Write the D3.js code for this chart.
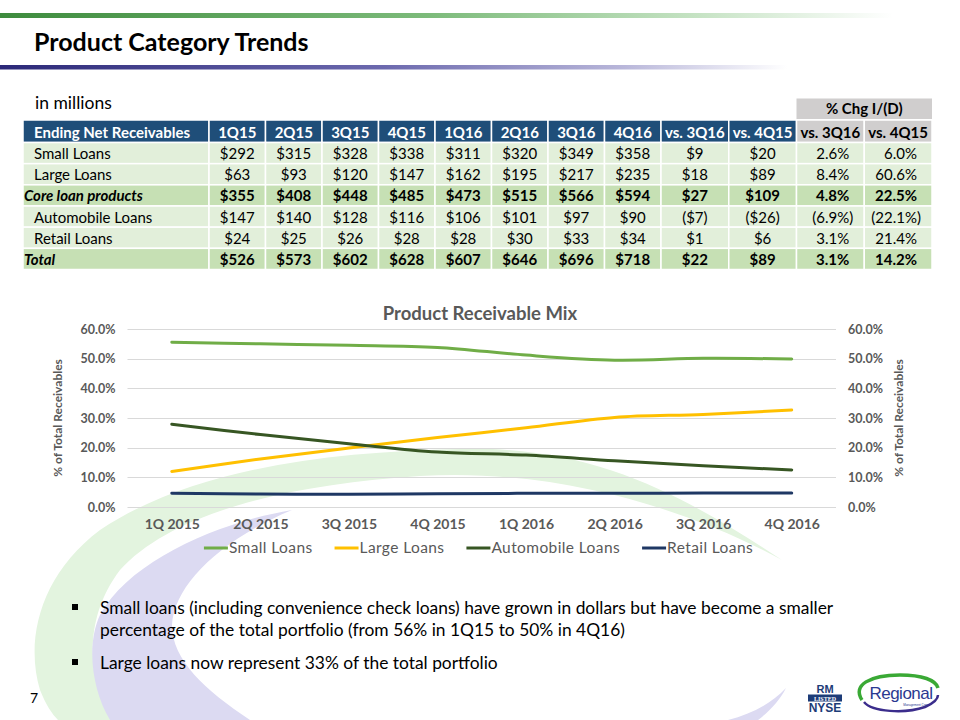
<!DOCTYPE html>
<html>
<head>
<meta charset="utf-8">
<script src="https://cdn.jsdelivr.net/npm/d3@7"></script>
<style>
  html, body { margin: 0; padding: 0; background: #fff; }
  svg { display: block; font-family: Lato, "Open Sans", sans-serif; }
</style>
</head>
<body>
<svg id="slide" width="960" height="720"></svg>
<script>
// ---------------- DATA ----------------
const quarterCols = ["1Q15", "2Q15", "3Q15", "4Q15", "1Q16", "2Q16", "3Q16", "4Q16"];
const changeCols = ["vs. 3Q16", "vs. 4Q15", "vs. 3Q16", "vs. 4Q15"];
const rowLabels = ["Small Loans", "Large Loans", "Core loan products", "Automobile Loans", "Retail Loans", "Total"];
const rowBold = [false, false, true, false, false, true];
const smallLoans = [292, 315, 328, 338, 311, 320, 349, 358];
const largeLoans = [63, 93, 120, 147, 162, 195, 217, 235];
const coreLoans = [355, 408, 448, 485, 473, 515, 566, 594];
const autoLoans = [147, 140, 128, 116, 106, 101, 97, 90];
const retailLoans = [24, 25, 26, 28, 28, 30, 33, 34];
const totalLoans = [526, 573, 602, 628, 607, 646, 696, 718];
const chgDollarVs3Q16 = [9, 18, 27, -7, 1, 22];
const chgDollarVs4Q15 = [20, 89, 109, -26, 6, 89];
const chgPctVs3Q16 = [2.6, 8.4, 4.8, -6.9, 3.1, 3.1];
const chgPctVs4Q15 = [6.0, 60.6, 22.5, -22.1, 21.4, 14.2];

const chartQuarters = ["1Q 2015", "2Q 2015", "3Q 2015", "4Q 2015", "1Q 2016", "2Q 2016", "3Q 2016", "4Q 2016"];
const mixSmall = [55.5, 55.0, 54.5, 53.8, 51.2, 49.5, 50.1, 49.9];
const mixLarge = [12.0, 16.2, 19.9, 23.4, 26.7, 30.2, 31.2, 32.7];
const mixAuto = [27.9, 24.4, 21.3, 18.5, 17.5, 15.6, 13.9, 12.5];
const mixRetail = [4.6, 4.4, 4.3, 4.5, 4.6, 4.6, 4.7, 4.7];
const seriesNames = ["Small Loans", "Large Loans", "Automobile Loans", "Retail Loans"];
const seriesColors = ["#70AD47", "#FFC000", "#375623", "#1F3864"];
const yTicks = [0, 10, 20, 30, 40, 50, 60];

const bullets = [
  ["Small loans (including convenience check loans) have grown in dollars but have become a smaller",
   "percentage of the total portfolio (from 56% in 1Q15 to 50% in 4Q16)"],
  ["Large loans now represent 33% of the total portfolio"]
];

// ---------------- DRAW ----------------
const svg = d3.select("#slide");
const defs = svg.append("defs");

// background swooshes
svg.append("path")
  .attr("d", "M782,560 C690,500 600,445 460,449 C320,452 190,470 100,530 C40,575 25,640 40,690 C46,705 52,714 58,720 L112,720 C88,680 82,620 120,570 C170,515 280,485 420,476 C560,468 690,510 782,560 Z")
  .attr("fill", "#E3F4DF");
svg.append("path")
  .attr("d", "M292,510 C220,522 130,560 100,615 C86,645 92,690 110,720 L250,720 C205,690 172,660 172,625 C174,585 220,540 292,510 Z")
  .attr("fill", "#DCDAF2");
svg.append("path")
  .attr("d", "M786,688 C772,703 752,714 728,720 L758,720 C770,711 780,700 786,688 Z")
  .attr("fill", "#DCDAF2");

// header gradient lines
const gGreen = defs.append("linearGradient").attr("id", "gGreen");
gGreen.append("stop").attr("offset", "0").attr("stop-color", "#3D8B3D");
gGreen.append("stop").attr("offset", "0.45").attr("stop-color", "#7DBB7B");
gGreen.append("stop").attr("offset", "0.72").attr("stop-color", "#C4E2C2");
gGreen.append("stop").attr("offset", "0.93").attr("stop-color", "#ffffff");
svg.append("rect").attr("x", 0).attr("y", 13).attr("width", 960).attr("height", 5).attr("fill", "url(#gGreen)");
const gPurple = defs.append("linearGradient").attr("id", "gPurple");
gPurple.append("stop").attr("offset", "0").attr("stop-color", "#2B2878");
gPurple.append("stop").attr("offset", "0.4").attr("stop-color", "#6C69AE");
gPurple.append("stop").attr("offset", "0.65").attr("stop-color", "#B9B7DA");
gPurple.append("stop").attr("offset", "0.82").attr("stop-color", "#ffffff");
svg.append("rect").attr("x", 0).attr("y", 65).attr("width", 960).attr("height", 4.5).attr("fill", "url(#gPurple)");

svg.append("text").attr("x", 34).attr("y", 51).attr("font-size", 25).attr("font-weight", 700)
  .attr("fill", "#000").text("Product Category Trends");
svg.append("text").attr("x", 35).attr("y", 109).attr("font-size", 17.5).attr("fill", "#000").text("in millions");

// ---------------- TABLE ----------------
const table = svg.append("g").attr("font-size", 15);
const labelX0 = 23, labelX1 = 209;
const xQ = d3.scaleBand().domain(quarterCols).range([209, 661]);
const xC = d3.scaleBand().domain(d3.range(changeCols.length)).range([661, 932]);
const yRow = d3.scaleBand().domain(d3.range(rowLabels.length)).range([142.5, 269.5]);
const headTop = 120, headBot = 142.5;
const blue = "#1F4E79", light = "#E2EFDA", dark = "#C6E0B4", gray = "#D0CECE";

// % Chg header
table.append("rect").attr("x", xC(2)).attr("y", 98.5).attr("width", xC.bandwidth() * 2).attr("height", 20.5).attr("fill", gray);
table.append("text").attr("x", xC(2) + xC.bandwidth()).attr("y", 114).attr("text-anchor", "middle")
  .attr("font-weight", 700).attr("fill", "#000").text("% Chg I/(D)");

// header row
function cell(x, y, w, h, fill) {
  table.append("rect").attr("x", x).attr("y", y).attr("width", w).attr("height", h)
    .attr("fill", fill).attr("stroke", "#fff").attr("stroke-width", 1.5);
}
cell(labelX0, headTop, labelX1 - labelX0, headBot - headTop, blue);
table.append("text").attr("x", 34).attr("y", 137.5).attr("font-weight", 700).attr("fill", "#fff").text("Ending Net Receivables");
quarterCols.forEach(q => {
  cell(xQ(q), headTop, xQ.bandwidth(), headBot - headTop, blue);
  table.append("text").attr("x", xQ(q) + xQ.bandwidth() / 2).attr("y", 137.5).attr("text-anchor", "middle")
    .attr("font-weight", 700).attr("fill", "#fff").text(q);
});
changeCols.forEach((c, i) => {
  cell(xC(i), headTop, xC.bandwidth(), headBot - headTop, i < 2 ? blue : gray);
  table.append("text").attr("x", xC(i) + xC.bandwidth() / 2).attr("y", 137.5).attr("text-anchor", "middle")
    .attr("font-weight", 700).attr("fill", i < 2 ? "#fff" : "#000").text(c);
});

const rowValues = [smallLoans, largeLoans, coreLoans, autoLoans, retailLoans, totalLoans];
const fmtDollar = v => v < 0 ? "($" + Math.abs(v) + ")" : "$" + v;
const fmtPct = v => v < 0 ? "(" + Math.abs(v).toFixed(1) + "%)" : v.toFixed(1) + "%";

rowLabels.forEach((lab, r) => {
  const y0 = yRow(r), h = yRow.bandwidth();
  const fill = rowBold[r] ? dark : light;
  const fw = rowBold[r] ? 700 : 400;
  const base = y0 + 16.5;
  cell(labelX0, y0, labelX1 - labelX0, h, fill);
  table.append("text").attr("x", rowBold[r] ? 24 : 34).attr("y", base)
    .attr("font-weight", fw).attr("font-style", rowBold[r] ? "italic" : "normal")
    .attr("fill", "#000").text(lab);
  quarterCols.forEach((q, i) => {
    cell(xQ(q), y0, xQ.bandwidth(), h, fill);
    table.append("text").attr("x", xQ(q) + xQ.bandwidth() / 2).attr("y", base).attr("text-anchor", "middle")
      .attr("font-weight", fw).attr("fill", "#000").text(fmtDollar(rowValues[r][i]));
  });
  const chg = [chgDollarVs3Q16[r], chgDollarVs4Q15[r], chgPctVs3Q16[r], chgPctVs4Q15[r]];
  chg.forEach((v, i) => {
    cell(xC(i), y0, xC.bandwidth(), h, fill);
    if (i < 2) {
      table.append("text").attr("x", xC(i) + xC.bandwidth() / 2).attr("y", base).attr("text-anchor", "middle")
        .attr("font-weight", fw).attr("fill", "#000").text(fmtDollar(v));
    } else {
      table.append("text").attr("x", xC(i) + xC.bandwidth() - (v < 0 ? 11 : 15)).attr("y", base).attr("text-anchor", "end")
        .attr("font-weight", fw).attr("fill", "#000").text(fmtPct(v));
    }
  });
});

// ---------------- CHART ----------------
const chart = svg.append("g");
const x = d3.scalePoint().domain(chartQuarters).range([127.5, 836]).padding(0.5);
const y = d3.scaleLinear().domain([0, 60]).range([507, 329]);
const axisGray = "#595959";

chart.append("text").attr("x", 480).attr("y", 320).attr("text-anchor", "middle")
  .attr("font-size", 18.5).attr("font-weight", 700).attr("fill", axisGray).text("Product Receivable Mix");

chart.append("g").selectAll("line").data(yTicks).join("line")
  .attr("x1", 127.5).attr("x2", 836).attr("y1", d => Math.round(y(d)) + 0.5).attr("y2", d => Math.round(y(d)) + 0.5)
  .attr("stroke", "#D9D9D9").attr("stroke-width", 1);

const fmtAxis = d => d.toFixed(1) + "%";
const leftAxis = chart.append("g").attr("transform", "translate(127.5,0)")
  .call(d3.axisLeft(y).tickValues(yTicks).tickFormat(fmtAxis).tickSize(0).tickPadding(12));
const rightAxis = chart.append("g").attr("transform", "translate(836,0)")
  .call(d3.axisRight(y).tickValues(yTicks).tickFormat(fmtAxis).tickSize(0).tickPadding(12));
const bottomAxis = chart.append("g").attr("transform", "translate(0,507)")
  .call(d3.axisBottom(x).tickSize(0).tickPadding(12));
[leftAxis, rightAxis, bottomAxis].forEach(a => {
  a.select(".domain").remove();
  a.selectAll("text").attr("font-family", "Lato, sans-serif").attr("font-weight", 700).attr("fill", axisGray);
});
leftAxis.selectAll("text").attr("font-size", 12.5);
rightAxis.selectAll("text").attr("font-size", 12.5);
bottomAxis.selectAll("text").attr("font-size", 14);

chart.append("text").attr("transform", "translate(62,418) rotate(-90)").attr("text-anchor", "middle")
  .attr("font-size", 12).attr("font-weight", 700).attr("fill", axisGray).text("% of Total Receivables");
chart.append("text").attr("transform", "translate(903,418) rotate(-90)").attr("text-anchor", "middle")
  .attr("font-size", 12).attr("font-weight", 700).attr("fill", axisGray).text("% of Total Receivables");

const series = [mixSmall, mixLarge, mixAuto, mixRetail];
const line = d3.line().x((d, i) => x(chartQuarters[i])).y(d => y(d)).curve(d3.curveCatmullRom.alpha(0.5));
series.forEach((s, k) => {
  chart.append("path").datum(s).attr("d", line).attr("fill", "none")
    .attr("stroke", seriesColors[k]).attr("stroke-width", 3).attr("stroke-linecap", "round");
});

// legend
const legend = chart.append("g");
let lx = 0;
seriesNames.forEach((n, k) => {
  const g = legend.append("g").attr("transform", `translate(${lx},0)`);
  g.append("line").attr("x1", 0).attr("x2", 24).attr("y1", 548).attr("y2", 548)
    .attr("stroke", seriesColors[k]).attr("stroke-width", 3);
  const t = g.append("text").attr("x", 25).attr("y", 553).attr("font-size", 15.5)
    .attr("letter-spacing", 0.4).attr("fill", axisGray).text(n);
  lx += 25 + t.node().getComputedTextLength() + 22;
});
const legW = lx - 22;
legend.attr("transform", `translate(${478.5 - legW / 2},0)`);

// ---------------- BULLETS ----------------
const bl = svg.append("g").attr("font-size", 17.4).attr("fill", "#000");
const bulletY = [614, 669];
bullets.forEach((lines, i) => {
  bl.append("rect").attr("x", 72).attr("y", bulletY[i] - 10).attr("width", 6).attr("height", 6).attr("fill", "#000");
  lines.forEach((ln, j) => {
    bl.append("text").attr("x", 100).attr("y", bulletY[i] + j * 22).text(ln);
  });
});

svg.append("text").attr("x", 30).attr("y", 703).attr("font-size", 14).attr("fill", "#000").text("7");

// ---------------- LOGOS ----------------
const logo = svg.append("g");
const navy = "#1D3C78";
logo.append("text").attr("x", 825).attr("y", 693).attr("text-anchor", "middle").attr("font-size", 11)
  .attr("font-weight", 900).attr("font-family", "Arial, Liberation Sans, sans-serif").attr("fill", navy).text("RM");
logo.append("rect").attr("x", 808).attr("y", 694.5).attr("width", 34).attr("height", 7).attr("fill", navy);
logo.append("text").attr("x", 825).attr("y", 700.5).attr("text-anchor", "middle").attr("font-size", 6)
  .attr("font-family", "Liberation Serif, serif").attr("font-weight", 700).attr("fill", "#fff").text("LISTED");
logo.append("text").attr("x", 825).attr("y", 712).attr("text-anchor", "middle").attr("font-size", 12)
  .attr("font-weight", 900).attr("font-family", "Arial, Liberation Sans, sans-serif").attr("fill", navy).text("NYSE");

logo.append("path").attr("d", "M862,700 C852,685 870,675 900,675 C922,675 936,680 938,688")
  .attr("fill", "none").attr("stroke", "#3AA935").attr("stroke-width", 3.5);
logo.append("path").attr("d", "M864,702 C872,712 905,714 925,707 C934,703 938,699 938,695")
  .attr("fill", "none").attr("stroke", "#3B2D8C").attr("stroke-width", 2.5);
logo.append("text").attr("x", 901).attr("y", 699).attr("text-anchor", "middle").attr("font-size", 17)
  .attr("font-family", "Arial, Liberation Sans, sans-serif").attr("fill", "#2B3990").attr("letter-spacing", -0.5).text("Regional");
logo.append("text").attr("x", 916).attr("y", 706).attr("text-anchor", "middle").attr("font-size", 3)
  .attr("font-family", "Arial, sans-serif").attr("fill", "#2B3990").text("Management Corp.");
</script>
</body>
</html>
